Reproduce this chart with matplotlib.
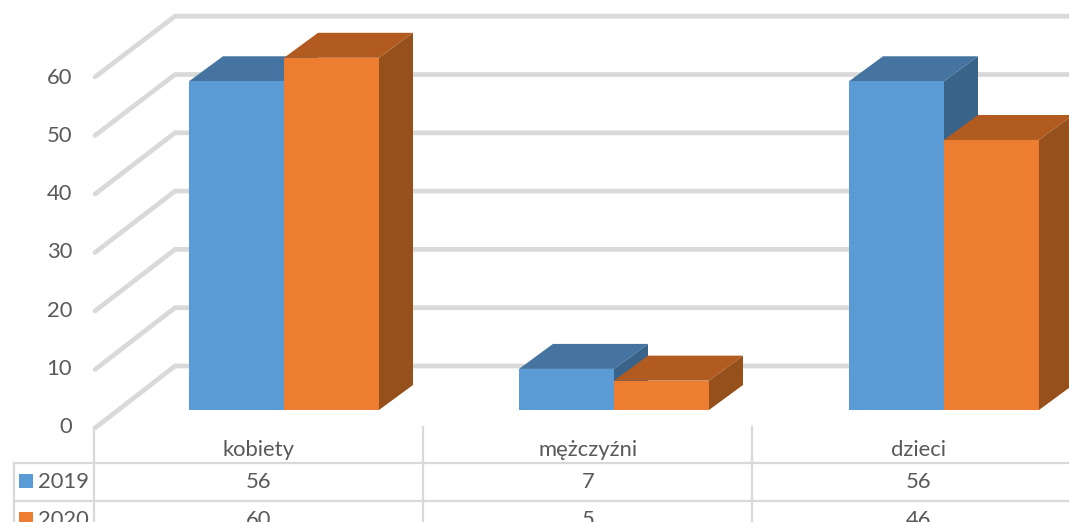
import matplotlib
matplotlib.use("Agg")
import matplotlib.pyplot as plt
from matplotlib.patches import Polygon, Rectangle

categories = ["kobiety", "mężczyźni", "dzieci"]
series_names = ["2019", "2020"]
values_2019 = [56, 7, 56]
values_2020 = [60, 5, 46]
y_ticks = [0, 10, 20, 30, 40, 50, 60]

BLUE = ("#5B9BD5", "#44749F", "#3A6389")
ORANGE = ("#ED7D31", "#B25B21", "#95501B")
GRID = "#D9D9D9"
TEXT = "#595959"
FS = 15.8

W, H = 1069, 522
X0, XS = 284.0, 330.0   # pixel of category 0, pixels per category
Y0, YS = 410.0, 5.87    # pixel of value 0, pixels per unit

plt.rcParams["font.family"] = ["Lato", "DejaVu Sans"]
fig = plt.figure(figsize=(W / 100, H / 100), dpi=100)
ax = fig.add_axes([0, 0, 1, 1])
ax.set_xlim(-X0 / XS, (W - X0) / XS)
ax.set_ylim((Y0 - H) / YS, Y0 / YS)
ax.axis("off")


def dx(px):
    return px / XS


def dy(px):
    return px / YS


def px_x(px):
    return (px - X0) / XS


def px_y(px):
    return (Y0 - px) / YS


# walls: gridlines
for v in y_ticks:
    front = (px_x(95), px_y(428) + v * 5.85 / YS)
    back = (px_x(175), px_y(366) + v * 5.83 / YS)
    ax.plot([front[0], back[0], px_x(W + 5)], [front[1], back[1], back[1]],
            color=GRID, lw=3.4, solid_capstyle="round", solid_joinstyle="miter", zorder=1)
    ax.text(px_x(72), px_y(427) + v * 5.82 / YS, str(v), ha="right", va="center",
            fontsize=FS, color=TEXT, zorder=5)

# bars
BAR_W = dx(95)
DX, DY = dx(34), dy(25)


def bar3d(x, v, cols, z):
    ax.add_patch(Polygon([(x + BAR_W / 2, 0), (x + BAR_W / 2 + DX, DY),
                          (x + BAR_W / 2 + DX, v + DY), (x + BAR_W / 2, v)],
                         closed=True, fc=cols[2], ec="none", zorder=z))
    ax.add_patch(Polygon([(x - BAR_W / 2, v), (x - BAR_W / 2 + DX, v + DY),
                          (x + BAR_W / 2 + DX, v + DY), (x + BAR_W / 2, v)],
                         closed=True, fc=cols[1], ec="none", zorder=z))
    ax.bar([x], [v], width=BAR_W, color=cols[0], edgecolor="none", zorder=z + 0.1)


for i in range(len(categories)):
    bar3d(i - BAR_W / 2, values_2019[i], BLUE, 2)
    bar3d(i + BAR_W / 2, values_2020[i], ORANGE, 3)

# data table
for x in [94, 423, 752]:
    ax.plot([px_x(x)] * 2, [px_y(427), px_y(H + 5)], color=GRID, lw=1.6, zorder=1)
ax.plot([px_x(14)] * 2, [px_y(463), px_y(H + 5)], color=GRID, lw=1.6, zorder=1)
for y in [463, 501]:
    ax.plot([px_x(14), px_x(W + 5)], [px_y(y)] * 2, color=GRID, lw=1.6, zorder=1)

offset = dx(-25.5)
for i, c in enumerate(categories):
    ax.text(i + offset, px_y(450), c, ha="center", va="center", fontsize=FS, color=TEXT)
    ax.text(i + offset, px_y(482), str(values_2019[i]), ha="center", va="center",
            fontsize=FS, color=TEXT)
    ax.text(i + offset, px_y(520), str(values_2020[i]), ha="center", va="center",
            fontsize=FS, color=TEXT)

for name, col, y in zip(series_names, [BLUE[0], ORANGE[0]], [481, 519]):
    ax.add_patch(Rectangle((px_x(19), px_y(y + 7)), dx(14), dy(14), fc=col, ec="none", zorder=4))
    ax.text(px_x(38), px_y(y + 1), name, ha="left", va="center", fontsize=FS, color=TEXT)

fig.savefig("out.png", dpi=100)
